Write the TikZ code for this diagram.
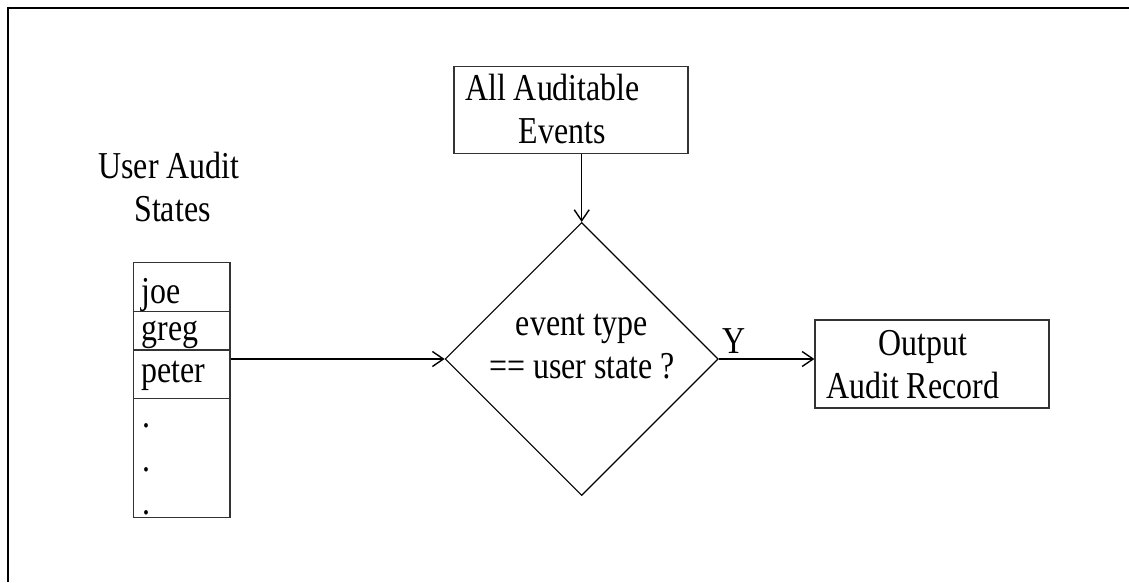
\documentclass[tikz,border=0pt]{standalone}
\usepackage{fontspec}
\setmainfont{Liberation Serif}[FakeStretch=0.84]
\usetikzlibrary{shapes.geometric,arrows.meta}
\begin{document}
\begin{tikzpicture}[x=1pt,y=-1pt,
  txt/.style={font=\fontsize{38}{43}\selectfont, inner sep=0pt},
  boxed/.style={draw=black!80, line width=1.3pt, inner sep=0pt},
  cell/.style={boxed, minimum width=96.6pt},
  link/.style={line width=1.4pt, -{Straight Barb[length=11pt,width=15pt,line width=1.4pt]}}]
\useasboundingbox (0,0) rectangle (1129,582);
% frame
\draw[line width=2.8pt] (8,8) -- (1129,8);
\draw[line width=2.8pt] (8,6.6) -- (8,582);

% user audit states
\node[txt, anchor=base] (uas1) at (169,178) {User Audit};
\node[txt, anchor=base] (uas2) at (172.5,221.7) {States};

\node[cell, anchor=north west, minimum height=49pt] (joe) at (132.7,261.7) {};
\node[cell, anchor=north west, minimum height=38.6pt] (greg) at (132.7,310.7) {};
\node[cell, anchor=north west, minimum height=48.7pt] (peter) at (132.7,349.3) {};
\node[cell, anchor=north west, minimum height=118.7pt] (more) at (132.7,398) {};
\node[txt, anchor=base west] (tjoe) at (141.5,303) {joe};
\node[txt, anchor=base west] (tgreg) at (141.5,340) {greg};
\node[txt, anchor=base west] (tpeter) at (141.5,382) {peter};
\node[txt, anchor=base] (d1) at (146,427) {.};
\node[txt, anchor=base] (d2) at (146,471) {.};
\node[txt, anchor=base] (d3) at (146,514.5) {.};

% source of events
\node[boxed, minimum width=234pt, minimum height=87pt] (all) at (571,109.7) {};
\node[txt, anchor=base west] (tall) at (465,100) {All Auditable};
\node[txt, anchor=base] (tev) at (562,143) {Events};

% decision
\node[draw=black, line width=1.1pt, diamond, aspect=1, minimum width=273pt, minimum height=273pt, inner sep=0pt] (dec) at (581.7,359) {};
\node[txt, anchor=base] (q1) at (582,335) {event type};
\node[txt, anchor=base] (q2) at (582,378) {== user state ?};

% output
\node[boxed, minimum width=234pt, minimum height=88pt] (out) at (932,364) {};
\node[txt, anchor=base] (to1) at (923,355) {Output};
\node[txt, anchor=base west] (to2) at (826,398) {Audit Record};

% connectors
\draw[link] (all.south -| dec.north) -- (dec.north);
\draw[link] (peter.east |- dec.west) -- (dec.west);
\draw[link] (dec.east) -- (out.west |- dec.east);
\node[txt, anchor=base] (yes) at (734,353) {Y};
\end{tikzpicture}
\end{document}
